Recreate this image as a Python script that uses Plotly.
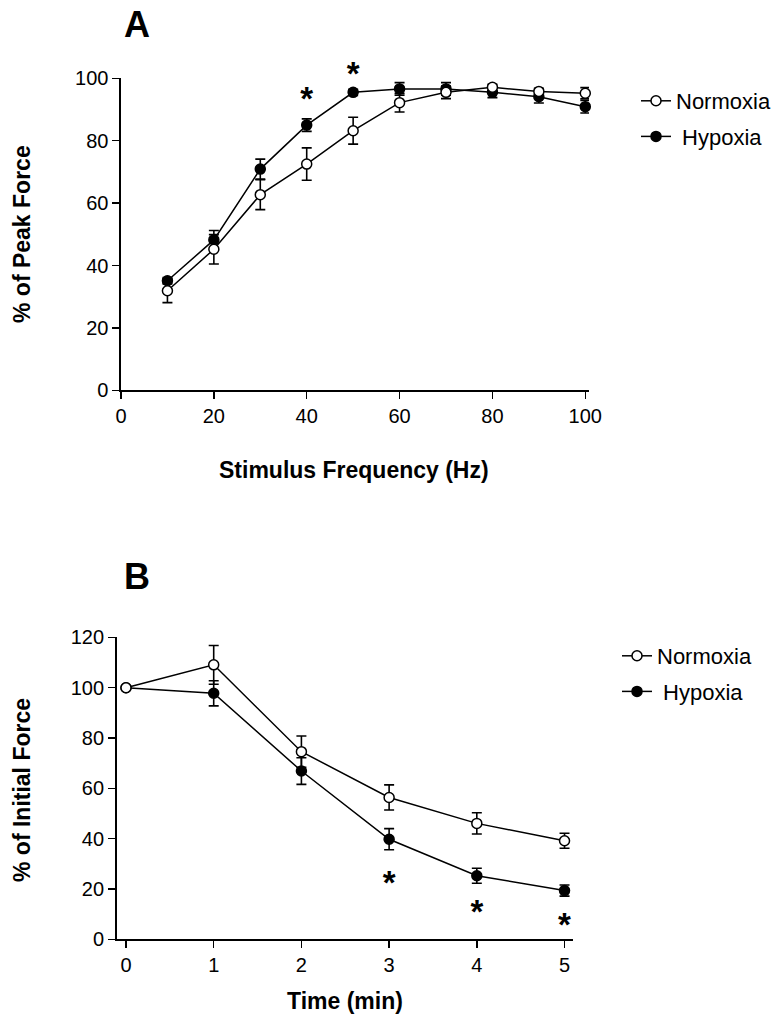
import plotly.graph_objects as go

# ---- Panel A data ----
freq_hz = [10, 20, 30, 40, 50, 60, 70, 80, 90, 100]
normoxia_peak = [31.9, 45.2, 62.7, 72.5, 83.2, 92.2, 95.5, 97.1, 95.8, 95.2]
normoxia_peak_err = [3.8, 4.7, 4.8, 5.2, 4.3, 3.0, 2.0, 1.0, 1.0, 1.8]
hypoxia_peak = [35.1, 48.2, 70.9, 85.0, 95.5, 96.6, 96.6, 95.5, 94.1, 90.9]
hypoxia_peak_err = [1.0, 3.0, 3.2, 2.0, 1.0, 2.0, 2.0, 1.7, 2.0, 2.0]
sigA_x = [40, 50]
sigA_y = [92.6, 100.6]

# ---- Panel B data ----
time_min = [0, 1, 2, 3, 4, 5]
normoxia_init = [100.0, 109.1, 74.6, 56.4, 46.1, 39.2]
normoxia_init_err = [0.0, 7.7, 6.2, 5.0, 4.2, 3.0]
hypoxia_init = [100.0, 97.8, 66.9, 39.8, 25.3, 19.4]
hypoxia_init_err = [0.0, 5.0, 5.3, 4.2, 3.0, 2.2]
sigB_x = [3, 4, 5]
sigB_y = [21.2, 9.8, 4.5]

W, H = 782, 1028
FONT = "Arial, Liberation Sans, sans-serif"

def px_x(p):
    return p / W

def px_y(p):
    return 1 - p / H

fig = go.Figure()

# significance asterisks (on invisible companion y axes sharing the same data scale)
star_font = dict(family=FONT, size=33, color="black")
fig.add_trace(go.Scatter(x=sigA_x, y=sigA_y, mode="text", text=["<b>*</b>"] * len(sigA_x),
                         textposition="middle center", textfont=star_font,
                         xaxis="x", yaxis="y3", showlegend=False, cliponaxis=False,
                         hoverinfo="skip"))
fig.add_trace(go.Scatter(x=sigB_x, y=sigB_y, mode="text", text=["<b>*</b>"] * len(sigB_x),
                         textposition="middle center", textfont=star_font,
                         xaxis="x2", yaxis="y4", showlegend=False, cliponaxis=False,
                         hoverinfo="skip"))

def add_series(x, y, err, name, filled, xa, ya, legend, rank, group):
    fig.add_trace(go.Scatter(
        x=x, y=y, name=name, mode="lines+markers",
        line=dict(color="black", width=1.5),
        marker=dict(size=10, color="black" if filled else "white",
                    line=dict(color="black", width=1.5), symbol="circle"),
        error_y=dict(type="data", array=err, visible=True, color="black",
                     thickness=1.6, width=5),
        xaxis=xa, yaxis=ya, legend=legend, legendrank=rank, legendgroup=group,
        showlegend=True, cliponaxis=False,
    ))

# Panel A (hypoxia first so normoxia is drawn on top)
add_series(freq_hz, hypoxia_peak, hypoxia_peak_err, "\u00a0Hypoxia", True, "x", "y", "legend", 2, "ah")
add_series(freq_hz, normoxia_peak, normoxia_peak_err, "Normoxia", False, "x", "y", "legend", 1, "an")
# Panel B
add_series(time_min, hypoxia_init, hypoxia_init_err, "\u00a0Hypoxia", True, "x2", "y2", "legend2", 2, "bh")
add_series(time_min, normoxia_init, normoxia_init_err, "Normoxia", False, "x2", "y2", "legend2", 1, "bn")

axis_common = dict(
    showline=True, linecolor="black", linewidth=1.6,
    ticks="outside", ticklen=7, tickwidth=1.5, tickcolor="black",
    showgrid=False, zeroline=False, automargin=False,
    tickfont=dict(family=FONT, size=20, color="black"),
)
hidden_axis = dict(visible=False, showgrid=False, zeroline=False, automargin=False)

legend_common = dict(xanchor="left", yanchor="top",
                     font=dict(family=FONT, size=22, color="black"),
                     bgcolor="rgba(0,0,0,0)", traceorder="grouped", tracegroupgap=4)

# Panel A geometry: y 0..100 over pixels 390.3..78.3
A_y0, A_y100 = 390.3, 78.3
A_scale = (A_y0 - A_y100) / 100.0
A_top_ext = 40.0
# Panel B geometry: y 0..120 over pixels 939.4..637.4
B_y0, B_y120 = 939.4, 637.4
B_scale = (B_y0 - B_y120) / 120.0
B_top_ext = 40.0

fig.update_layout(
    width=W, height=H,
    margin=dict(l=0, r=0, t=0, b=0, autoexpand=False),
    paper_bgcolor="white", plot_bgcolor="rgba(0,0,0,0)",
    font=dict(family=FONT, color="black"),
    hovermode=False,
    xaxis=dict(domain=[px_x(121), px_x(589)], range=[0, 100.8],
               tickvals=[0, 20, 40, 60, 80, 100], anchor="y", **axis_common),
    yaxis=dict(domain=[px_y(A_y0), px_y(A_y100)], range=[0, 100],
               tickvals=[0, 20, 40, 60, 80, 100], anchor="x", **axis_common),
    yaxis3=dict(domain=[px_y(A_y0), px_y(A_y100 - A_top_ext)],
                range=[0, 100 + A_top_ext / A_scale], anchor="x", **hidden_axis),
    xaxis2=dict(domain=[px_x(116.7), px_x(573.3)], range=[-0.106, 5.1],
                tickvals=[0, 1, 2, 3, 4, 5], anchor="y2", **axis_common),
    yaxis2=dict(domain=[px_y(B_y0), px_y(B_y120)], range=[0, 120],
                tickvals=[0, 20, 40, 60, 80, 100, 120], anchor="x2", **axis_common),
    yaxis4=dict(domain=[px_y(B_y0), px_y(B_y120 - B_top_ext)],
                range=[0, 120 + B_top_ext / B_scale], anchor="x2", **hidden_axis),
    legend=dict(x=px_x(636), y=px_y(80), **legend_common),
    legend2=dict(x=px_x(617), y=px_y(635), **legend_common),
    showlegend=True,
)

ann = []
def paper_text(x, y, text, size, angle=0):
    ann.append(dict(x=px_x(x), y=px_y(y), xref="paper", yref="paper", text=text,
                    showarrow=False, xanchor="center", yanchor="middle", textangle=angle,
                    font=dict(family=FONT, size=size, color="black")))

# panel letters
paper_text(137, 24, "<b>A</b>", 36)
paper_text(137, 576, "<b>B</b>", 36)
# axis titles
paper_text(354, 470, "<b>Stimulus Frequency (Hz)</b>", 23)
paper_text(22, 234, "<b>% of Peak Force</b>", 23, -90)
paper_text(345, 1001, "<b>Time (min)</b>", 23)
paper_text(22, 790, "<b>% of Initial Force</b>", 23, -90)
fig.update_layout(annotations=ann)

fig.write_html("out.html", config={"displayModeBar": False, "staticPlot": True},
               post_script="document.body.style.margin='0';")
